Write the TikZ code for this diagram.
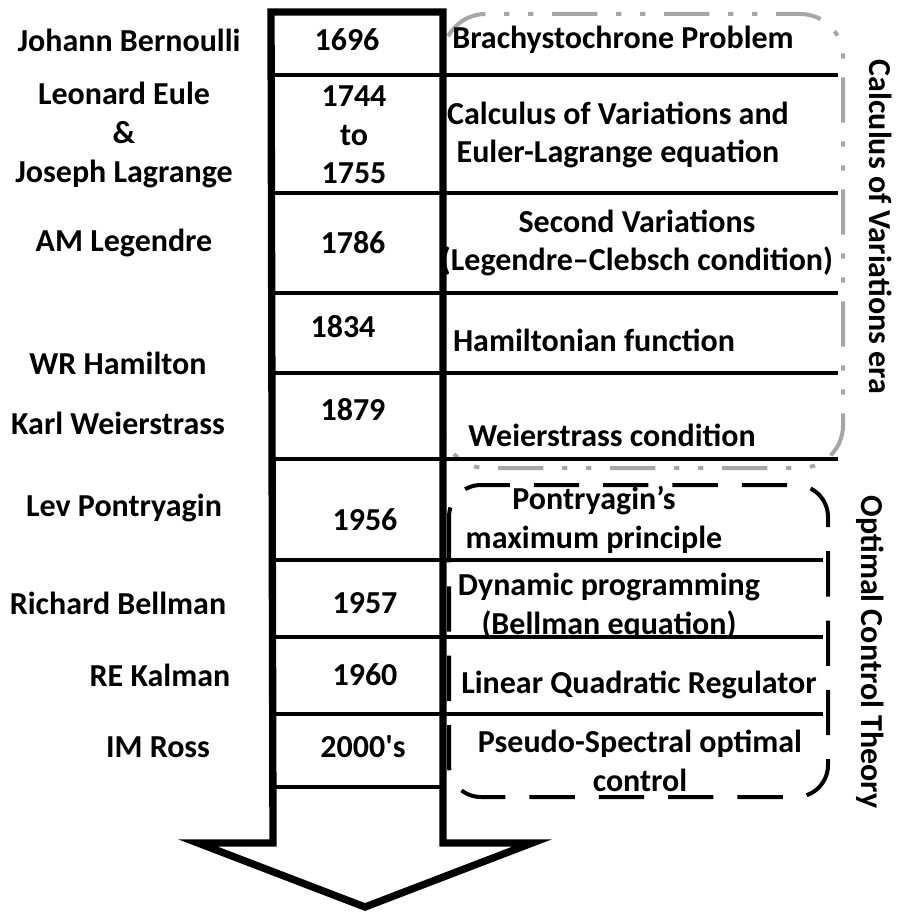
\documentclass[tikz,border=0pt]{standalone}
\usepackage{fontspec}
\setmainfont{Carlito}
\tikzset{every picture/.style={line width=0.75pt}}
\tikzset{
  lbl/.style={font=\bfseries\fontsize{24}{29}\selectfont, inner sep=0.75pt, align=center},
  rowline/.style={line width=3pt},
  erabox/.style={line width=3pt, rounded corners=32pt},
}

\begin{document}
\begin{tikzpicture}[x=0.75pt,y=0.75pt,yscale=-1,xscale=1]
\fill [white] (0,0) rectangle (896,917);
\useasboundingbox (0,0) rectangle (896,917);

%Shape: Rounded Rect, gray dash dot dot
\draw [erabox, color={rgb, 255:red, 166; green, 166; blue, 166 }, dash pattern=on 34pt off 14pt on 4pt off 14pt on 4pt off 14pt] (443,14) rectangle (843,468) ;
%Shape: Rounded Rect, black dashed
\draw [erabox, rounded corners=24pt, dash pattern=on 34pt off 18pt] (449,485) rectangle (828,797) ;

%Shape: Down Arrow
\draw [line width=5.5pt, line join=miter] (271,12) -- (443,12) -- (443,843) -- (532,843) -- (365,907) -- (198,843) -- (273,843) -- cycle ;

%Straight Lines
\foreach \y in {75,193,293,373,459}
  \draw [rowline] (271,\y) -- (838,\y) ;
\foreach \y in {560,637,714}
  \draw [rowline] (271,\y) -- (823,\y) ;
\draw [rowline] (271,787) -- (443,787) ;

% Text Node
\node [lbl] (bernoulli) at (129,40) {Johann Bernoulli};
\node [lbl] (euler) at (124,135) {Leonard Eule\\\&\\Joseph Lagrange};
\node [lbl] (legendre) at (124,243) {AM Legendre};
\node [lbl] (hamilton) at (118,363) {WR Hamilton};
\node [lbl] (weier) at (118,423) {Karl Weierstrass};
\node [lbl] (pontry) at (124,508) {Lev Pontryagin};
\node [lbl] (bellman) at (118,603) {Richard Bellman};
\node [lbl] (kalman) at (160,675) {RE Kalman};
\node [lbl] (ross) at (158,747) {IM Ross};

% Text Node
\node [lbl] (y1696) at (347,40) {1696};
\node [lbl] (y1744) at (354,135) {1744\\to\\1755};
\node [lbl] (y1786) at (353,243) {1786};
\node [lbl] (y1834) at (343,327) {1834};
\node [lbl] (y1879) at (353,410) {1879};
\node [lbl] (y1956) at (365,520) {1956};
\node [lbl] (y1957) at (365,603) {1957};
\node [lbl] (y1960) at (365,675) {1960};
\node [lbl] (y2000) at (363,747) {2000\textquotesingle s};

% Text Node
\node [lbl] (brach) at (623,40) {Brachystochrone Problem};
\node [lbl] (calc) at (618,135) {Calculus of Variations and\\Euler-Lagrange equation};
\node [lbl] (secvar) at (637,243) {Second Variations\\(Legendre--Clebsch condition)};
\node [lbl] (hamfun) at (594,340) {Hamiltonian function};
\node [lbl] (weicond) at (612,435) {Weierstrass condition};
\node [lbl] (pmp) at (594,520) {Pontryagin’s\\maximum principle};
\node [lbl] (dynprog) at (609,606) {Dynamic programming\\(Bellman equation)};
\node [lbl] (lqr) at (639,685) {Linear Quadratic Regulator};
\node [lbl] (pseudo) at (640,761) {Pseudo-Spectral optimal\\control};

% Text Node
\node [lbl, rotate=-90] (era1) at (881,227) {Calculus of Variations era};
\node [lbl, rotate=-90] (era2) at (870,652) {Optimal Control Theory};

\end{tikzpicture}
\end{document}
